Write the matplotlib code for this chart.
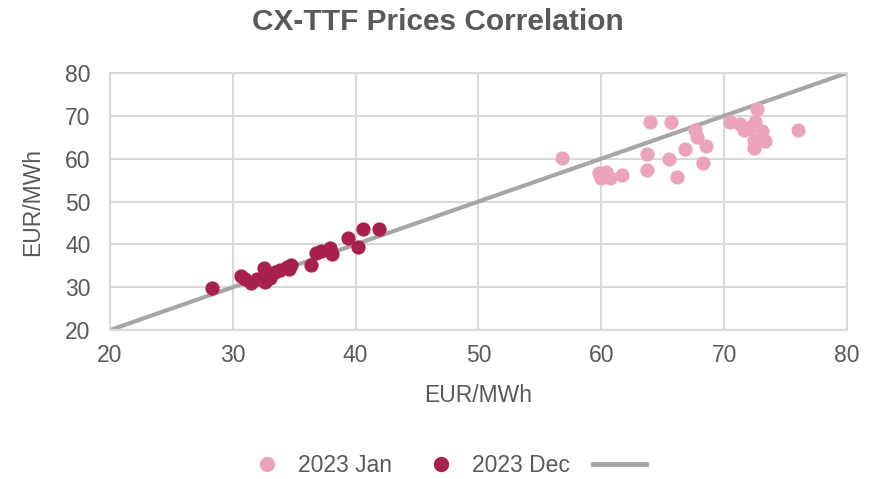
import matplotlib
matplotlib.use("Agg")
import matplotlib.pyplot as plt
from matplotlib.lines import Line2D

plt.rcParams['font.family'] = ['Liberation Sans', 'DejaVu Sans']

jan_x = [56.8, 59.8, 60.0, 60.4, 60.7, 61.7, 64.0, 65.7, 63.7, 63.7, 65.5, 66.2, 66.8,
         67.6, 67.8, 68.5, 68.3, 70.5, 71.3, 71.6, 72.7, 72.5, 73.1, 72.4, 73.3, 72.4, 76.0, 72.1]
jan_y = [60.1, 56.7, 55.6, 56.9, 55.6, 56.3, 68.6, 68.6, 61.2, 57.3, 59.9, 55.8, 62.2,
         66.8, 65.1, 62.9, 58.9, 68.5, 68.2, 66.7, 71.7, 68.6, 66.5, 64.3, 64.2, 62.6, 66.8, 67.5]

dec_x = [28.3, 30.7, 31.0, 31.5, 32.0, 32.5, 32.6, 33.0, 33.4, 33.8, 34.4, 34.7, 34.6,
         36.4, 36.8, 37.2, 37.9, 38.1, 39.4, 40.2, 40.6, 41.9]
dec_y = [29.8, 32.6, 32.0, 30.9, 32.0, 34.4, 31.2, 32.2, 33.6, 34.0, 34.6, 35.1, 34.2,
         35.1, 37.9, 38.5, 39.1, 37.8, 41.4, 39.4, 43.6, 43.7]

line_x = [20, 80]
line_y = [20, 80]

label_jan = "2023 Jan"
label_dec = "2023 Dec"
title = "CX-TTF Prices Correlation"
xlabel = "EUR/MWh"
ylabel = "EUR/MWh"
ticks = [20, 30, 40, 50, 60, 70, 80]

c_jan = "#EBA3BE"
c_dec = "#A8204F"
c_line = "#A6A6A6"
c_text = "#595959"

fs = 16.5

fig = plt.figure(figsize=(8.71, 4.79), dpi=100)
ax = fig.add_axes([0.1263, 0.311, 0.9724 - 0.1263, 0.8476 - 0.311])

ax.plot(line_x, line_y, color=c_line, lw=3, zorder=2, solid_capstyle='butt')
ax.scatter(jan_x, jan_y, s=105, color=c_jan, zorder=3, linewidths=0)
ax.scatter(dec_x, dec_y, s=105, color=c_dec, zorder=3, linewidths=0)

ax.set_xlim(20, 80)
ax.set_ylim(20, 80)
ax.set_xticks(ticks)
ax.set_yticks(ticks)
ax.grid(True, color="#D9D9D9", lw=1.5, zorder=0)
ax.set_axisbelow(True)
for s in ax.spines.values():
    s.set_color("#D9D9D9")
    s.set_linewidth(1.5)
ax.tick_params(axis='y', length=0, labelsize=fs, colors=c_text, pad=14)
ax.tick_params(axis='x', length=0, labelsize=fs, colors=c_text, pad=10)
ax.set_xlabel(xlabel, fontsize=fs, color=c_text, labelpad=12)
ax.set_ylabel(ylabel, fontsize=fs, color=c_text, labelpad=15)

fig.text(0.503, 0.955, title, ha='center', va='center', fontsize=21.5,
         fontweight='bold', color=c_text)

handles = [
    Line2D([], [], marker='o', ls='none', markersize=10, color=c_jan, label=label_jan),
    Line2D([], [], marker='o', ls='none', markersize=10, color=c_dec, label=label_dec),
    Line2D([], [], color=c_line, lw=3.5, label=" "),
]
fig.legend(handles=handles, loc='center', bbox_to_anchor=(0.515, 0.028), ncol=3,
           frameon=False, fontsize=fs, labelcolor=c_text, handletextpad=0.2,
           columnspacing=1.0, handlelength=2.3)

fig.savefig("out.png", dpi=100)
